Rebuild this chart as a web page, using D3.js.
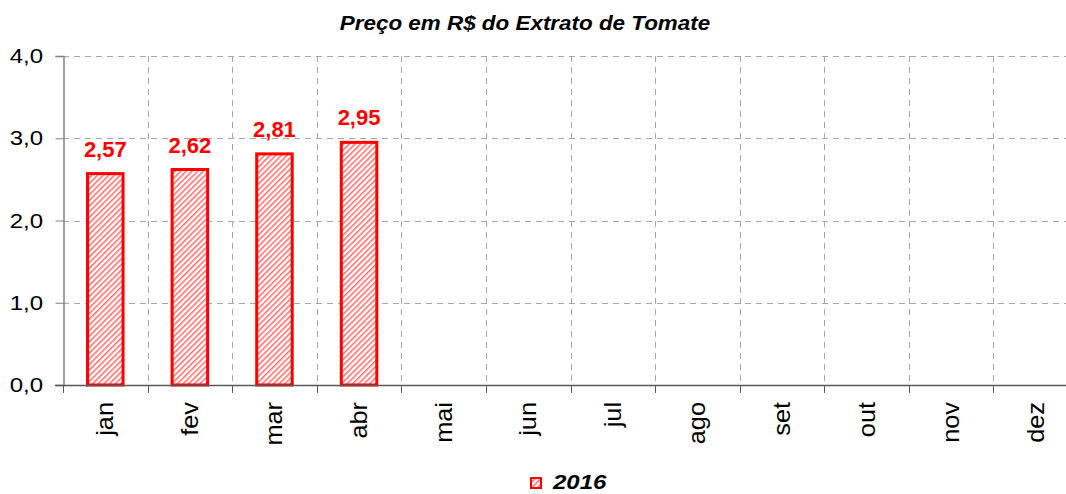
<!DOCTYPE html>
<html>
<head>
<meta charset="utf-8">
<script src="https://cdn.jsdelivr.net/npm/d3@7"></script>
<style>
  body { margin: 0; background: #fff; }
  text { font-family: "Liberation Sans", Arial, sans-serif; }
</style>
</head>
<body>
<div id="chart"></div>
<script>
const months = ["jan", "fev", "mar", "abr", "mai", "jun", "jul", "ago", "set", "out", "nov", "dez"];
const prices2016 = [2.57, 2.62, 2.81, 2.95, null, null, null, null, null, null, null, null];
const yTicks = [0, 1, 2, 3, 4];

const width = 1066, height = 494;
const margin = { top: 56, left: 63, bottom: 109 };
const plotW = 1015;
const fmt1 = d => d.toFixed(1).replace(".", ",");
const fmt2 = d => d.toFixed(2).replace(".", ",");

const svg = d3.select("#chart").append("svg")
  .attr("width", width)
  .attr("height", height);

const defs = svg.append("defs");
const pat = defs.append("pattern")
  .attr("id", "hatch")
  .attr("patternUnits", "userSpaceOnUse")
  .attr("width", 4)
  .attr("height", 4)
  .attr("patternTransform", "rotate(45)");
pat.append("rect").attr("width", 4).attr("height", 4).attr("fill", "#fff");
pat.append("rect").attr("width", 1.6).attr("height", 4).attr("fill", "#ff7070");

const x = d3.scaleBand()
  .domain(months)
  .range([margin.left, margin.left + plotW])
  .paddingInner(0.58)
  .paddingOuter(0.29);

const y = d3.scaleLinear()
  .domain([0, 4])
  .range([height - margin.bottom, margin.top]);

const y0 = y(0);
const xStep = x.step();
const bounds = months.map((m, i) => margin.left + i * xStep);

// gridlines
const grid = svg.append("g")
  .attr("stroke", "#a6a6a6")
  .attr("stroke-width", 1)
  .attr("stroke-dasharray", "6,5");

grid.selectAll("line.h")
  .data(yTicks.filter(d => d > 0))
  .join("line")
  .attr("class", "h")
  .attr("x1", margin.left)
  .attr("x2", margin.left + plotW)
  .attr("y1", d => Math.round(y(d)) + 0.5)
  .attr("y2", d => Math.round(y(d)) + 0.5);

grid.selectAll("line.v")
  .data(bounds.slice(1))
  .join("line")
  .attr("class", "v")
  .attr("x1", d => Math.round(d) + 0.5)
  .attr("x2", d => Math.round(d) + 0.5)
  .attr("y1", y(4))
  .attr("y2", y0);

// bars
const data = months.map((m, i) => ({ month: m, value: prices2016[i] }))
  .filter(d => d.value != null);

svg.append("g")
  .selectAll("rect")
  .data(data)
  .join("rect")
  .attr("x", d => x(d.month))
  .attr("y", d => y(d.value))
  .attr("width", x.bandwidth())
  .attr("height", d => y0 - y(d.value))
  .attr("fill", "url(#hatch)")
  .attr("stroke", "#ff0000")
  .attr("stroke-width", 3);

svg.append("g")
  .selectAll("text")
  .data(data)
  .join("text")
  .attr("x", d => x(d.month) + x.bandwidth() / 2)
  .attr("y", d => y(d.value) - 17)
  .attr("text-anchor", "middle")
  .attr("fill", "#ff0000")
  .attr("font-size", 22)
  .attr("font-weight", "bold")
  .text(d => fmt2(d.value));

// y axis (labels drawn separately so they can be widened like the original)
const yAxis = svg.append("g")
  .attr("transform", `translate(${margin.left + 0.5},0)`)
  .call(d3.axisLeft(y).tickValues(yTicks).tickSize(8).tickFormat(""));
yAxis.select(".domain").attr("stroke", "#808080").attr("stroke-width", 1.5);
yAxis.selectAll(".tick line").attr("stroke", "#808080");

svg.append("g")
  .selectAll("text")
  .data(yTicks)
  .join("text")
  .attr("transform", d => `translate(${margin.left - 20},${y(d) + 7}) scale(1.2,1)`)
  .attr("text-anchor", "end")
  .attr("font-size", 20)
  .attr("fill", "#000")
  .text(fmt1);

// x axis
const xg = svg.append("g");
xg.append("line")
  .attr("x1", margin.left - 8)
  .attr("x2", margin.left + plotW)
  .attr("y1", y0 + 0.5)
  .attr("y2", y0 + 0.5)
  .attr("stroke", "#595959")
  .attr("stroke-width", 1.5);
xg.selectAll("line.t")
  .data(bounds.concat([margin.left + plotW]))
  .join("line")
  .attr("class", "t")
  .attr("x1", d => Math.round(d) + 0.5)
  .attr("x2", d => Math.round(d) + 0.5)
  .attr("y1", y0)
  .attr("y2", y0 + 8)
  .attr("stroke", "#595959");
xg.selectAll("text")
  .data(months)
  .join("text")
  .attr("transform", d => `translate(${x(d) + x.bandwidth() / 2 + 8},${y0 + 17}) rotate(-90) scale(1.1,1)`)
  .attr("text-anchor", "end")
  .attr("font-size", 23)
  .attr("fill", "#000")
  .text(d => d);

// title
svg.append("text")
  .attr("transform", "translate(525,30) scale(1.15,1)")
  .attr("text-anchor", "middle")
  .attr("font-size", 19.5)
  .attr("font-weight", "bold")
  .attr("font-style", "italic")
  .text("Preço em R$ do Extrato de Tomate");

// legend
const lg = svg.append("g").attr("transform", "translate(530,477)");
lg.append("rect")
  .attr("x", 1).attr("y", 1)
  .attr("width", 10).attr("height", 10)
  .attr("fill", "url(#hatch)")
  .attr("stroke", "#ff0000")
  .attr("stroke-width", 2);
lg.append("text")
  .attr("transform", "translate(23,12) scale(1.2,1)")
  .attr("font-size", 20)
  .attr("font-weight", "bold")
  .attr("font-style", "italic")
  .text("2016");
</script>
</body>
</html>
